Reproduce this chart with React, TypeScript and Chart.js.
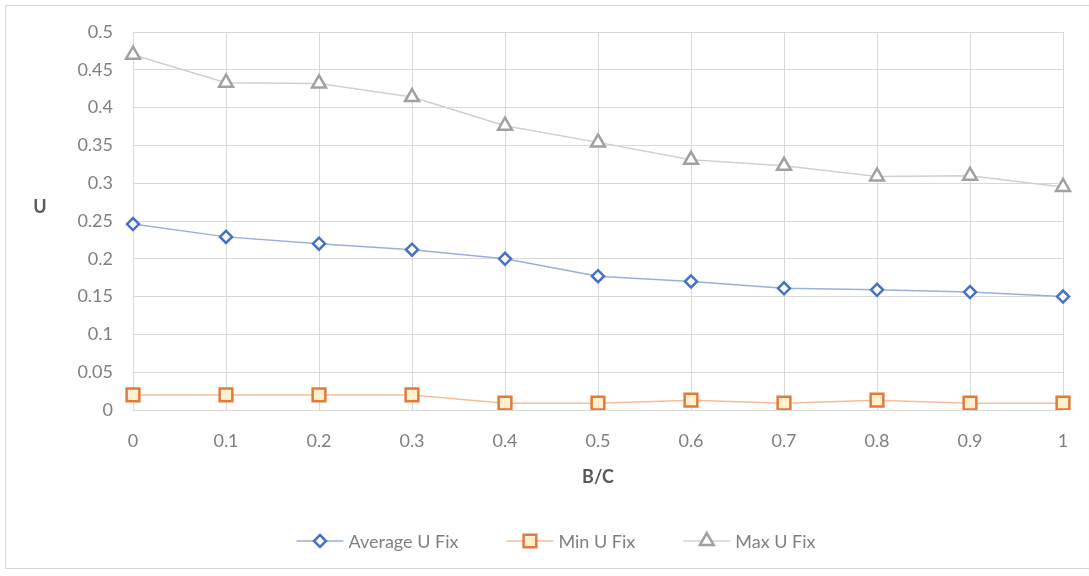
import React, { useEffect, useRef } from "react";
import { Chart, registerables } from "chart.js";

Chart.register(...registerables);

const categories = ["0", "0.1", "0.2", "0.3", "0.4", "0.5", "0.6", "0.7", "0.8", "0.9", "1"];
const averageU = [0.246, 0.229, 0.22, 0.212, 0.2, 0.177, 0.17, 0.161, 0.159, 0.156, 0.15];
const minU = [0.02, 0.02, 0.02, 0.02, 0.009, 0.009, 0.013, 0.009, 0.013, 0.009, 0.009];
const maxU = [0.47, 0.433, 0.432, 0.414, 0.376, 0.354, 0.331, 0.323, 0.309, 0.31, 0.295];
const yTickLabels = ["0", "0.05", "0.1", "0.15", "0.2", "0.25", "0.3", "0.35", "0.4", "0.45", "0.5"];
const seriesNames = ["Average U Fix", "Min U Fix", "Max U Fix"];
const xTitle = "B/C";
const yTitle = "U";

const FONT = "Lato, 'Open Sans', sans-serif";

function drawMarker(ctx: CanvasRenderingContext2D, style: string, x: number, y: number, r: number) {
  ctx.beginPath();
  if (style === "rectRot") {
    ctx.moveTo(x, y - r);
    ctx.lineTo(x + r, y);
    ctx.lineTo(x, y + r);
    ctx.lineTo(x - r, y);
    ctx.closePath();
  } else if (style === "rect") {
    const s = r * Math.SQRT1_2;
    ctx.rect(x - s, y - s, 2 * s, 2 * s);
  } else if (style === "triangle") {
    for (let i = 0; i < 3; i++) {
      const a = (i * 2 * Math.PI) / 3;
      const px = x + Math.sin(a) * r;
      const py = y - Math.cos(a) * r;
      if (i === 0) ctx.moveTo(px, py);
      else ctx.lineTo(px, py);
    }
    ctx.closePath();
  }
  ctx.fill();
  ctx.stroke();
}

const extrasPlugin = {
  id: "extras",
  afterDraw(chart: any) {
    const ctx: CanvasRenderingContext2D = chart.ctx;
    const area = chart.chartArea;
    ctx.save();
    // Axis titles
    ctx.font = `bold 18px ${FONT}`;
    ctx.fillStyle = "#595959";
    ctx.textAlign = "center";
    ctx.textBaseline = "middle";
    ctx.fillText(yTitle, 40, 207);
    ctx.fillText(xTitle, (area.left + area.right) / 2, 477);

    // Legend
    ctx.font = `18px ${FONT}`;
    const lineLen = 47;
    const gapText = 5;
    const gapItem = 48;
    const widths = chart.data.datasets.map((d: any) => ctx.measureText(d.label).width);
    const total =
      widths.reduce((a: number, w: number) => a + lineLen + gapText + w, 0) + gapItem * (widths.length - 1);
    let x = 556 - total / 2;
    const y = 541;
    chart.data.datasets.forEach((d: any, i: number) => {
      ctx.strokeStyle = d.borderColor;
      ctx.lineWidth = d.borderWidth;
      ctx.beginPath();
      ctx.moveTo(x, y);
      ctx.lineTo(x + lineLen, y);
      ctx.stroke();
      ctx.fillStyle = d.pointBackgroundColor;
      ctx.strokeStyle = d.pointBorderColor;
      ctx.lineWidth = d.pointBorderWidth;
      drawMarker(ctx, d.pointStyle, x + lineLen / 2, y, d.pointRadius);
      ctx.fillStyle = "#7f7f7f";
      ctx.textAlign = "left";
      ctx.textBaseline = "middle";
      ctx.fillText(d.label, x + lineLen + gapText, y + 1);
      x += lineLen + gapText + widths[i] + gapItem;
    });
    ctx.restore();
  },
};

export default function App() {
  const canvasRef = useRef<HTMLCanvasElement | null>(null);

  useEffect(() => {
    if (!canvasRef.current) return;
    const chart = new Chart(canvasRef.current, {
      type: "line",
      data: {
        labels: categories,
        datasets: [
          {
            label: seriesNames[0],
            data: averageU,
            borderColor: "#9AB0DA",
            borderWidth: 1.5,
            pointStyle: "rectRot",
            pointRadius: 6,
            pointHoverRadius: 6,
            pointBorderWidth: 2.5,
            pointBorderColor: "#4472C4",
            pointBackgroundColor: "#ffffff",
            tension: 0,
          },
          {
            label: seriesNames[1],
            data: minU,
            borderColor: "#F6BE98",
            borderWidth: 1.5,
            pointStyle: "rect",
            pointRadius: 9,
            pointHoverRadius: 9,
            pointBorderWidth: 2.5,
            pointBorderColor: "#E07B39",
            pointBackgroundColor: "#FFF0CE",
            tension: 0,
          },
          {
            label: seriesNames[2],
            data: maxU,
            borderColor: "#D0D0D0",
            borderWidth: 1.5,
            pointStyle: "triangle",
            pointRadius: 8,
            pointHoverRadius: 8,
            pointBorderWidth: 2.5,
            pointBorderColor: "#A0A0A0",
            pointBackgroundColor: "#ffffff",
            tension: 0,
          },
        ] as any,
      },
      options: {
        animation: false,
        responsive: false,
        maintainAspectRatio: false,
        layout: { padding: { left: 0, right: 26, top: 32, bottom: 116 } },
        plugins: {
          legend: { display: false },
          tooltip: { enabled: false },
        },
        scales: {
          x: {
            type: "category",
            offset: false,
            afterFit: (scale: any) => {
              scale.height = 50;
            },
            grid: { color: "#d9d9d9", drawTicks: false, lineWidth: 1 },
            border: { display: false },
            ticks: { color: "#7f7f7f", font: { family: FONT, size: 18 }, padding: 20, maxRotation: 0 },
            title: { display: false },
          },
          y: {
            min: 0,
            max: 0.5,
            afterFit: (scale: any) => {
              scale.width = 133;
            },
            grid: { color: "#d9d9d9", drawTicks: false, lineWidth: 1 },
            border: { display: false },
            ticks: {
              stepSize: 0.05,
              color: "#7f7f7f",
              font: { family: FONT, size: 18 },
              padding: 20,
              callback: (v: any) => yTickLabels[Math.round(Number(v) / 0.05)],
            },
          },
        },
      } as any,
      plugins: [extrasPlugin],
    });
    return () => chart.destroy();
  }, []);

  return (
    <div style={{ position: "fixed", left: 0, top: 0, width: 1089, height: 576, background: "#ffffff" }}>
      <div
        style={{
          position: "absolute",
          left: 5,
          top: 5,
          width: 1100,
          height: 562,
          border: "1px solid #d9d9d9",
        }}
      />
      <canvas
        ref={canvasRef}
        width={1089}
        height={576}
        style={{ position: "absolute", left: 0, top: 0, width: 1089, height: 576 }}
      />
    </div>
  );
}
